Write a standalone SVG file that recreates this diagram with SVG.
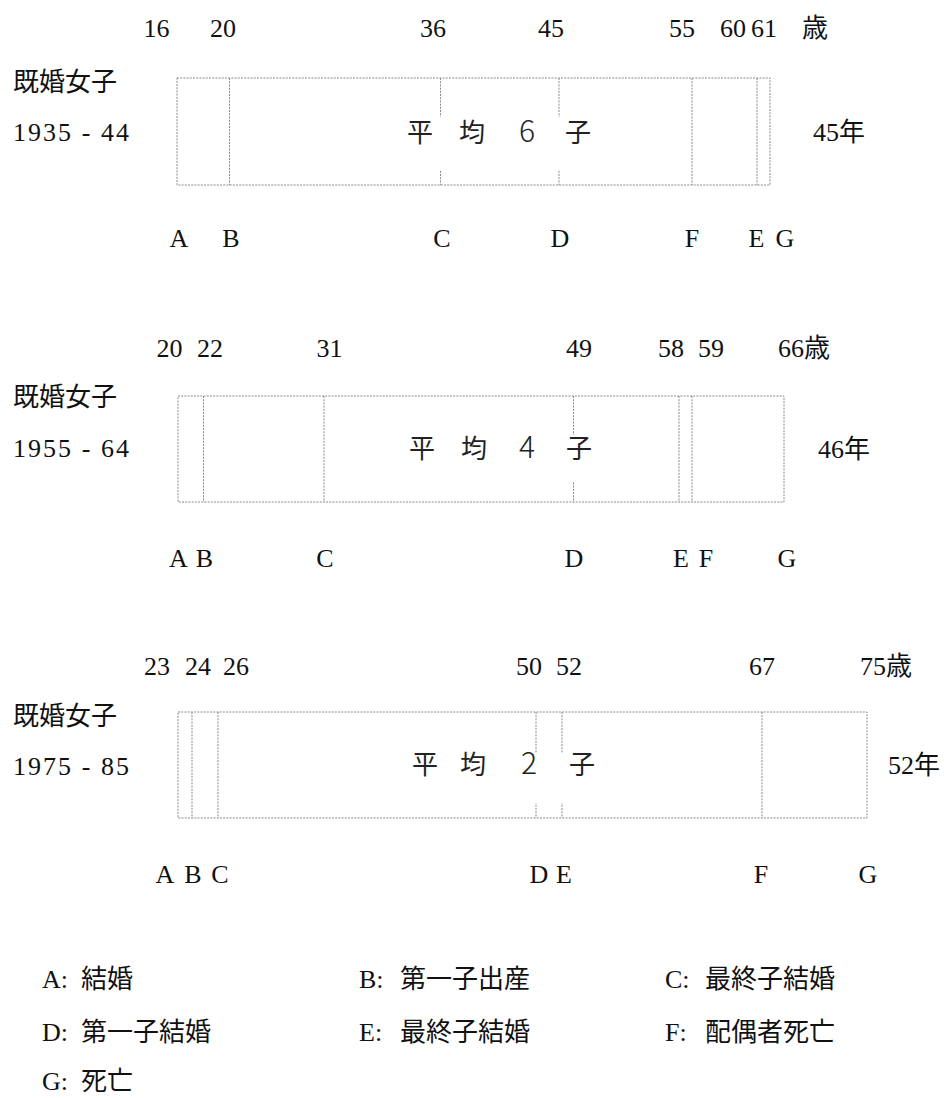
<svg xmlns="http://www.w3.org/2000/svg" width="944" height="1098" viewBox="0 0 944 1098">
<style>
text{font-family:"Liberation Serif","Noto Sans CJK JP",serif;font-size:26px;fill:#111}
.mid{text-anchor:middle}
.inner{fill:#222}
.dg{font-family:"Noto Sans CJK JP","Liberation Sans",sans-serif;font-size:30px;font-weight:300}
.bar{fill:#fff;stroke:#8a8a8a;stroke-width:1;stroke-dasharray:2 1.2}
.div{stroke:#8a8a8a;stroke-width:1;stroke-dasharray:2 1.2;fill:none}
.bg{fill:#fff;stroke:none}
</style>
<rect width="944" height="1098" fill="#fff"/>

<g id="bar-1935">
<text x="13" y="91">既婚女子</text>
<text x="13" y="141" textLength="116" lengthAdjust="spacing" xml:space="preserve">1935 - 44</text>
<g class="mid">
<text x="156.5" y="37">16</text><text x="223" y="37">20</text><text x="433" y="37">36</text><text x="551" y="37">45</text>
<text x="682" y="37">55</text><text x="733" y="37">60</text><text x="764" y="37">61</text><text x="815" y="37">歳</text>
</g>
<rect class="bar" x="177" y="78" width="593" height="107"/>
<path class="div" d="M229.5 78V185M440.5 78V185M559 78V185M692 78V185M757 78V185"/>
<rect class="bg" x="405" y="117" width="195" height="53"/>
<text class="mid inner" x="420 446 472 500 527 552 578" y="141.5">平 均 <tspan class="dg">6</tspan> 子</text>
<text x="813" y="141">45年</text>
<g class="mid">
<text x="179" y="247">A</text><text x="231" y="247">B</text><text x="442" y="247">C</text><text x="560" y="247">D</text>
<text x="692" y="247">F</text><text x="756.5" y="247">E</text><text x="785" y="247">G</text>
</g>
</g>

<g id="bar-1955">
<text x="13" y="406">既婚女子</text>
<text x="13" y="457" textLength="116" lengthAdjust="spacing" xml:space="preserve">1955 - 64</text>
<g class="mid">
<text x="169.5" y="357">20</text><text x="210" y="357">22</text><text x="329.5" y="357">31</text><text x="579" y="357">49</text>
<text x="671" y="357">58</text><text x="711" y="357">59</text>
</g>
<text x="778" y="357">66歳</text>
<rect class="bar" x="178" y="396" width="606" height="106"/>
<path class="div" d="M203.5 396V502M324 396V502M573.5 396V502M679 396V502M692 396V502"/>
<rect class="bg" x="405" y="435" width="195" height="47"/>
<text class="mid inner" x="422 448 474 500 527 553 579" y="458">平 均 <tspan class="dg">4</tspan> 子</text>
<text x="818" y="458">46年</text>
<g class="mid">
<text x="178.5" y="567">A</text><text x="204.5" y="567">B</text><text x="325" y="567">C</text><text x="574" y="567">D</text>
<text x="681" y="567">E</text><text x="706" y="567">F</text><text x="787" y="567">G</text>
</g>
</g>

<g id="bar-1975">
<text x="13" y="725">既婚女子</text>
<text x="13" y="775" textLength="116" lengthAdjust="spacing" xml:space="preserve">1975 - 85</text>
<g class="mid">
<text x="157" y="675">23</text><text x="198" y="675">24</text><text x="236" y="675">26</text><text x="529" y="675">50</text>
<text x="569" y="675">52</text><text x="762" y="675">67</text>
</g>
<text x="860" y="675">75歳</text>
<rect class="bar" x="178" y="712" width="689" height="106"/>
<path class="div" d="M192 712V818M218 712V818M536 712V818M562 712V818M762 712V818"/>
<rect class="bg" x="405" y="753" width="195" height="50"/>
<text class="mid inner" x="425 449 473 501 529 555 582" y="774">平 均 <tspan class="dg">2</tspan> 子</text>
<text x="888" y="774">52年</text>
<g class="mid">
<text x="165" y="883">A</text><text x="193" y="883">B</text><text x="220" y="883">C</text><text x="539" y="883">D</text>
<text x="564" y="883">E</text><text x="761" y="883">F</text><text x="868" y="883">G</text>
</g>
</g>

<g id="legend">
<text x="42" y="988">A: <tspan x="81">結婚</tspan></text>
<text x="359" y="988">B: <tspan x="400">第一子出産</tspan></text>
<text x="665" y="988">C: <tspan x="705">最終子結婚</tspan></text>
<text x="42" y="1041">D: <tspan x="81">第一子結婚</tspan></text>
<text x="359" y="1041">E: <tspan x="400">最終子結婚</tspan></text>
<text x="665" y="1041">F: <tspan x="705">配偶者死亡</tspan></text>
<text x="42" y="1090">G: <tspan x="81">死亡</tspan></text>
</g>
</svg>
